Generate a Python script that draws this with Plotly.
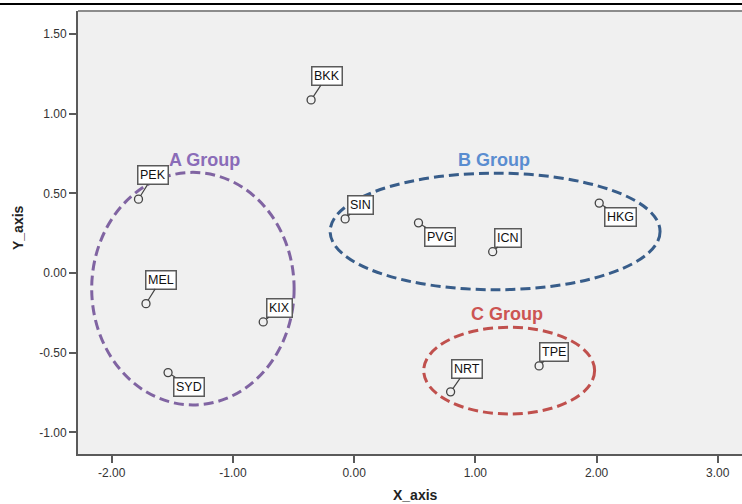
import plotly.graph_objects as go

# Airport coordinates on the two derived dimensions
airports = ["BKK", "PEK", "MEL", "KIX", "SYD", "SIN", "PVG", "ICN", "HKG", "NRT", "TPE"]
x_values = [-0.355, -1.779, -1.717, -0.750, -1.535, -0.074, 0.531, 1.143, 2.022, 0.796, 1.526]
y_values = [1.087, 0.464, -0.192, -0.307, -0.625, 0.340, 0.315, 0.134, 0.439, -0.746, -0.583]

# Axis ticks
x_ticks = [-2, -1, 0, 1, 2, 3]
x_tick_labels = ["-2.00", "-1.00", "0.00", "1.00", "2.00", "3.00"]
y_ticks = [-1.0, -0.5, 0.0, 0.5, 1.0, 1.5]
y_tick_labels = ["-1.00", "-0.50", "0.00", "0.50", "1.00", "1.50"]

# Group names and the ellipses drawn around them (centre x, centre y, half-width, half-height)
group_names = ["A Group", "B Group", "C Group"]
group_centre_x = [-1.33, 1.163, 1.279]
group_centre_y = [-0.098, 0.261, -0.6125]
group_half_w = [0.835, 1.361, 0.705]
group_half_h = [0.730, 0.366, 0.272]

# Styling / placement (pixels)
label_offsets = {
    "BKK": (16, -24), "PEK": (15, -24), "MEL": (15, -24), "KIX": (16, -14),
    "SYD": (21, 14), "SIN": (15, -14), "PVG": (22, 14), "ICN": (15, -14),
    "HKG": (21, 14), "NRT": (16, -23), "TPE": (15, -14),
}
group_line_colors = ["#8064a2", "#385d8a", "#c0504d"]
group_text_colors = ["#8a6cb8", "#5a8dd0", "#cc5452"]
group_title_px = [(204.5, 159.5), (493.5, 159.5), (507, 314)]

W, H = 742, 504
M_L, M_R, M_T, M_B = 78, 0, 11, 50
PW, PH = W - M_L - M_R, H - M_T - M_B

FONT = "Arial, 'Liberation Sans', sans-serif"

fig = go.Figure()

fig.add_trace(go.Scatter(
    x=x_values, y=y_values, mode="markers",
    marker=dict(symbol="circle-open", size=8, color="#444444", line=dict(width=1.3)),
    hoverinfo="text", text=airports, showlegend=False,
))

shapes = []
for cx, cy, hw, hh, col in zip(group_centre_x, group_centre_y, group_half_w, group_half_h, group_line_colors):
    shapes.append(dict(
        type="circle", xref="x", yref="y",
        x0=cx - hw, x1=cx + hw, y0=cy - hh, y1=cy + hh,
        line=dict(color=col, width=3, dash="10px,5px"), layer="above",
    ))

# top frame of the plot area
shapes.append(dict(type="line", xref="paper", yref="paper", x0=0, x1=1, y0=1, y1=1,
                   line=dict(color="#8c8c8c", width=2)))
# rule above the chart
rule_y = 1 + (M_T - 4) / PH
shapes.append(dict(type="line", xref="paper", yref="paper", x0=-M_L / PW, x1=1, y0=rule_y, y1=rule_y,
                   line=dict(color="#000000", width=2)))

annotations = []
for name, xv, yv in zip(airports, x_values, y_values):
    ax, ay = label_offsets[name]
    annotations.append(dict(
        x=xv, y=yv, xref="x", yref="y", text=name,
        showarrow=True, arrowhead=0, arrowwidth=1.2, arrowcolor="#444444",
        ax=ax, ay=ay, standoff=4,
        bgcolor="#ffffff", bordercolor="#5a5a5a", borderwidth=1.5, borderpad=1.5,
        font=dict(family=FONT, size=12.5, color="#111111"),
    ))


def px_to_paper(px, py):
    return (px - M_L) / PW, 1 - (py - M_T) / PH


for name, col, (gx, gy) in zip(group_names, group_text_colors, group_title_px):
    px, py = px_to_paper(gx, gy)
    annotations.append(dict(
        x=px, y=py, xref="paper", yref="paper", text="<b>%s</b>" % name,
        showarrow=False, xanchor="center", yanchor="middle",
        font=dict(family=FONT, size=18, color=col),
    ))

# axis titles
tx, ty = px_to_paper(415, 495)
annotations.append(dict(x=tx, y=ty, xref="paper", yref="paper", text="<b>X_axis</b>",
                        showarrow=False, xanchor="center", yanchor="middle",
                        font=dict(family=FONT, size=14, color="#222222")))
tx, ty = px_to_paper(18, 228)
annotations.append(dict(x=tx, y=ty, xref="paper", yref="paper", text="<b>Y_axis</b>",
                        showarrow=False, xanchor="center", yanchor="middle", textangle=-90,
                        font=dict(family=FONT, size=14, color="#222222")))

axis_common = dict(
    showgrid=False, zeroline=False, showline=True, linecolor="#5a5a5a", linewidth=2,
    ticks="outside", ticklen=7, tickwidth=1.5, tickcolor="#5a5a5a",
    tickfont=dict(family=FONT, size=12, color="#333333"),
)

fig.update_layout(
    width=W, height=H,
    margin=dict(l=M_L, r=M_R, t=M_T, b=M_B, pad=0, autoexpand=False),
    paper_bgcolor="#ffffff", plot_bgcolor="#f0f0f0",
    xaxis=dict(range=[-2.278, 3.200], tickvals=x_ticks, ticktext=x_tick_labels, **axis_common),
    yaxis=dict(range=[-1.136, 1.645], tickvals=y_ticks, ticktext=y_tick_labels, **axis_common),
    shapes=shapes, annotations=annotations, showlegend=False,
)

fig.write_html("out.html")
